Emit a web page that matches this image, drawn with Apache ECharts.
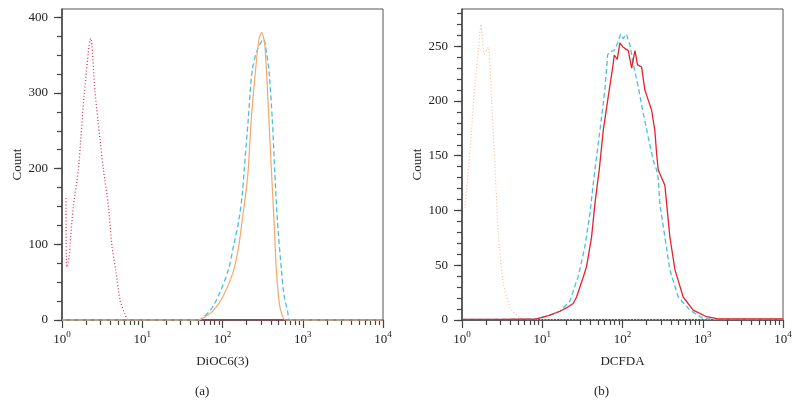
<!DOCTYPE html>
<html><head><meta charset="utf-8">
<script src="https://cdn.jsdelivr.net/npm/echarts@6/dist/echarts.min.js"></script>
<style>html,body{margin:0;padding:0;background:#fff}#c{width:800px;height:403px}</style>
</head><body><div id="c"></div>
<script>
// ---- Panel (a): DiOC6(3) ----
const aRedX = [1.122, 1.145, 1.233, 1.259, 1.384, 1.60, 1.71, 1.90, 2.28, 2.585, 2.985, 3.28, 3.79, 4.18, 4.73, 5.31, 6.13, 6.74, 10000];
const aRedY = [161, 70, 84, 99, 150, 199, 238, 300, 372, 300, 238, 199, 150, 99, 62, 26, 7, 0, 0];
const aOrangeX = [1, 50.6, 61.3, 77.9, 103.8, 138, 160, 176, 194, 209, 228, 258, 284, 307, 338, 379, 407, 438, 469, 497, 531, 613, 10000];
const aOrangeY = [0, 0, 4.4, 13, 33, 66, 99, 132, 165, 198, 264, 330, 370, 380, 361, 264, 198, 132, 66, 33, 13, 0, 0];
const aCyanX = [1, 50.6, 58.4, 70.8, 89.9, 118, 138, 160, 176, 186, 209, 235, 272, 325, 355, 379, 418, 447, 483, 542, 584, 644, 708, 10000];
const aCyanY = [0, 0, 4.4, 13, 33, 66, 99, 132, 165, 198, 264, 330, 357, 371, 352, 330, 264, 198, 132, 66, 33, 13, 0, 0];

// ---- Panel (b): DCFDA ----
const bOrangeX = [1.09, 1.26, 1.45, 1.6, 1.72, 1.9, 2.13, 2.34, 2.58, 2.83, 3.27, 3.96, 4.79, 5.8, 8, 10000];
const bOrangeY = [102, 155, 216, 246, 270, 243, 249, 200, 140, 79, 33, 12, 4.5, 1.5, 0.5, 0.5];
const bRedX = [1, 3, 8.5, 12, 16.6, 20, 24.3, 26.8, 32.4, 35.7, 41.2, 45.3, 49.8, 51.3, 57.5, 66.4, 76.6, 78.9, 86, 92.8, 102, 118, 130, 143, 154, 173, 190, 209, 230, 253, 266, 279, 290, 337, 355, 389, 450, 570, 760, 1115, 1550, 3000, 10000];
const bRedY = [0.5, 0.5, 1, 4, 8, 11, 15, 21, 39, 49, 76, 106, 130, 137, 173, 204, 234, 242, 238, 253, 249, 246, 230, 246, 233, 231, 210, 201, 192, 173, 152, 137, 134, 123, 106, 76, 46, 21, 9, 3, 1, 1, 1];
const bCyanX = [1, 3, 8.5, 12, 16.6, 22, 28.1, 34, 39.3, 43.3, 45.3, 52.3, 60.3, 65.2, 69.6, 78.2, 86, 94.7, 102, 112, 124, 136, 157, 181, 209, 241, 266, 280, 292, 337, 389, 494, 692, 1014, 1350, 3000, 10000];
const bCyanY = [0.5, 0.5, 1, 4, 8, 17, 40, 67, 97, 125, 137, 173, 210, 242, 245, 246, 252, 261, 257, 261, 251, 234, 213, 189, 167, 146, 137, 128, 106, 76, 46, 21, 9, 1.5, 0.5, 0.5, 0.5];

// ---- Tick labels ----
const aYTicks = [0, 100, 200, 300, 400];
const bYTicks = [0, 50, 100, 150, 200, 250];
const xDecades = [1, 10, 100, 1000, 10000];
const xTitles = ['DiOC6(3)', 'DCFDA'];
const panelLabels = ['(a)', '(b)'];
const yName = 'Count';

const FONT = 'Liberation Serif';
const AX = '#444';
const TXT = '#222';
const zip = (xs, ys) => xs.map((x, i) => [x, ys[i]]);
const range = (a, b, s) => { const r = []; for (let v = a; v <= b + 1e-9; v += s) r.push(v); return r; };
// minor log tick positions (2..9 in each decade), in log10 units
const minorLog = [];
for (let d = 0; d < 4; d++) for (let k = 2; k <= 9; k++) minorLog.push(d + Math.log10(k));

function xAxes(grid, title) {
  return [{
    type: 'log', logBase: 10, gridIndex: grid, min: 1, max: 10000, position: 'bottom',
    name: title, nameLocation: 'middle', nameGap: 35,
    nameTextStyle: { fontFamily: FONT, fontSize: 13, color: TXT },
    axisLine: { onZero: false, lineStyle: { color: AX, width: 1.5 } },
    axisTick: { customValues: xDecades, length: 8, lineStyle: { color: AX, width: 1.2 } },
    splitLine: { show: false }, minorTick: { show: false },
    axisLabel: {
      margin: 10,
      formatter: v => '{b|10}{s|' + Math.round(Math.log10(v)) + '}',
      rich: {
        b: { fontFamily: FONT, fontSize: 13, color: TXT, lineHeight: 16, verticalAlign: 'bottom' },
        s: { fontFamily: FONT, fontSize: 9, color: TXT, lineHeight: 6, verticalAlign: 'top' }
      }
    }
  }, {
    type: 'value', gridIndex: grid, min: 0, max: 4, position: 'bottom',
    axisLine: { show: false, onZero: false }, axisLabel: { show: false }, splitLine: { show: false },
    axisTick: { customValues: minorLog, length: 5, lineStyle: { color: AX, width: 1.2 } }
  }];
}
function yAxes(grid, max, major, minorTop, minorStep) {
  return [{
    type: 'value', gridIndex: grid, min: 0, max: max, position: 'left',
    name: yName, nameLocation: 'middle', nameGap: 38, nameRotate: 90,
    nameTextStyle: { fontFamily: FONT, fontSize: 13, color: TXT },
    axisLine: { show: true, onZero: false, lineStyle: { color: AX, width: 1.5 } },
    axisTick: { show: true, customValues: major, length: 8, lineStyle: { color: AX, width: 1.2 } },
    axisLabel: { customValues: major, margin: 14, fontFamily: FONT, fontSize: 13, color: TXT },
    splitLine: { show: false }
  }, {
    type: 'value', gridIndex: grid, min: 0, max: max, position: 'left', offset: 0,
    axisLine: { show: false, onZero: false }, axisLabel: { show: false }, splitLine: { show: false },
    axisTick: { show: true, customValues: range(0, minorTop, minorStep), length: 5, lineStyle: { color: AX, width: 1.2 } }
  }];
}
function line(xi, yi, data, color, type, width, z, smooth) {
  return {
    type: 'line', xAxisIndex: xi, yAxisIndex: yi, data: data, showSymbol: false, symbol: 'none',
    smooth: smooth, clip: false, z: z,
    lineStyle: { color: color, type: type, width: width }
  };
}

const option = {
  animation: false,
  backgroundColor: '#fff',
  grid: [
    { left: 62, right: 417, top: 9, bottom: 83, show: true, borderColor: '#555', borderWidth: 1 },
    { left: 462, right: 17, top: 9, bottom: 83, show: true, borderColor: '#555', borderWidth: 1 }
  ],
  title: [
    { text: panelLabels[0], left: 190, top: 380, textStyle: { fontFamily: FONT, fontSize: 13, fontWeight: 'normal', color: TXT } },
    { text: panelLabels[1], left: 589, top: 380, textStyle: { fontFamily: FONT, fontSize: 13, fontWeight: 'normal', color: TXT } }
  ],
  xAxis: [...xAxes(0, xTitles[0]), ...xAxes(1, xTitles[1])],
  yAxis: [...yAxes(0, 411, aYTicks, 400, 25), ...yAxes(1, 284, bYTicks, 280, 10)],
  series: [
    line(0, 0, zip(aRedX, aRedY), '#d9364f', [1, 2.2], 1.3, 3, 0.3),
    line(0, 0, zip(aCyanX, aCyanY), '#47c1de', [5, 3], 1.3, 4, 0.3),
    line(0, 0, zip(aOrangeX, aOrangeY), '#f5a868', 'solid', 1.2, 5, 0.3),
    line(2, 2, zip(bOrangeX, bOrangeY), '#f3bf96', [1, 2.2], 1.2, 3, 0.2),
    line(2, 2, zip(bCyanX, bCyanY), '#47c1de', [5, 3], 1.3, 4, false),
    line(2, 2, zip(bRedX, bRedY), '#e3222c', 'solid', 1.3, 5, false)
  ]
};
const chart = echarts.init(document.getElementById('c'), null, { renderer: 'canvas' });
chart.setOption(option);
</script></body></html>
